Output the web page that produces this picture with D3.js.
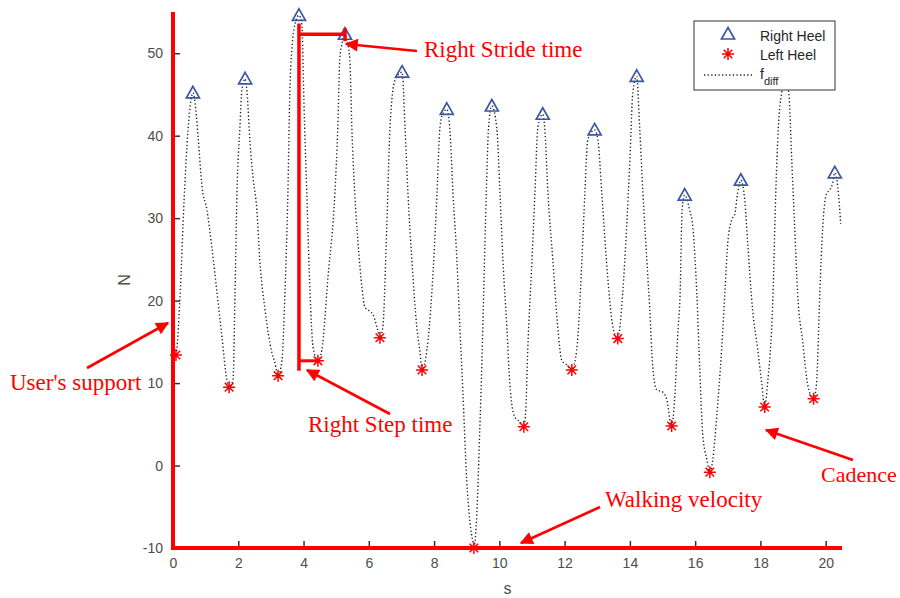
<!DOCTYPE html>
<html>
<head>
<meta charset="utf-8">
<script src="https://cdn.jsdelivr.net/npm/d3@7"></script>
<style>
  body { margin: 0; background: #fff; }
  svg { display: block; }
</style>
</head>
<body>
<div id="chart"></div>
<script>
// Right heel (peaks) and left heel (valleys), in seconds / N
const rightHeelT = [0.61, 2.21, 3.86, 5.27, 7.02, 8.39, 9.77, 11.33, 12.92, 14.21, 15.68, 17.40, 18.77, 20.28];
const rightHeelN = [45.2, 46.9, 54.6, 52.3, 47.7, 43.2, 43.6, 42.6, 40.7, 47.2, 32.8, 34.6, 46.8, 35.5];
const leftHeelT = [0.09, 1.72, 3.22, 4.44, 6.34, 7.63, 9.22, 10.75, 12.22, 13.63, 15.28, 16.45, 18.13, 19.63];
const leftHeelN = [13.4, 9.5, 10.9, 12.7, 15.5, 11.6, -10.0, 4.7, 11.6, 15.4, 4.8, -0.8, 7.1, 8.1];

// f_diff trace
const fdiffT = [0.03, 0.09, 0.21, 0.34, 0.46, 0.55, 0.61, 0.70, 0.77, 0.89, 1.04, 1.19, 1.35, 1.50, 1.65, 1.72,
  1.84, 1.90, 1.96, 2.05, 2.11, 2.21, 2.27, 2.36, 2.45, 2.57, 2.66, 2.82, 3.03, 3.12, 3.22,
  3.34, 3.43, 3.52, 3.58, 3.64, 3.77, 3.86, 3.95, 4.01, 4.10, 4.20, 4.29, 4.44,
  4.56, 4.75, 4.96, 5.05, 5.11, 5.18, 5.27, 5.36, 5.42, 5.48, 5.57, 5.67, 5.79, 5.88, 6.03, 6.13, 6.25, 6.34,
  6.43, 6.55, 6.65, 6.80, 7.02, 7.11, 7.20, 7.32, 7.47, 7.57, 7.63,
  7.78, 7.93, 8.09, 8.18, 8.27, 8.39, 8.48, 8.58, 8.70, 8.79, 8.88, 9.00, 9.10, 9.19, 9.22,
  9.31, 9.40, 9.45, 9.52, 9.60, 9.67, 9.77, 9.92, 10.02, 10.11, 10.23, 10.32, 10.47, 10.63, 10.75,
  10.81, 10.87, 11.00, 11.09, 11.18, 11.33, 11.39, 11.49, 11.64, 11.79, 11.91, 12.07, 12.22,
  12.37, 12.53, 12.62, 12.71, 12.92, 13.02, 13.14, 13.32, 13.48, 13.63,
  13.78, 13.90, 14.00, 14.09, 14.21, 14.30, 14.40, 14.52, 14.61, 14.70, 14.82, 15.01, 15.13, 15.28,
  15.37, 15.47, 15.54, 15.60, 15.68, 15.83, 15.93, 16.05, 16.14, 16.23, 16.36, 16.45,
  16.54, 16.66, 16.81, 16.91, 17.00, 17.12, 17.21, 17.30, 17.40, 17.52, 17.61, 17.76, 17.92, 18.04, 18.13,
  18.22, 18.38, 18.47, 18.55, 18.65, 18.77, 18.87, 18.96, 19.05, 19.14, 19.30, 19.45, 19.63,
  19.72, 19.82, 19.91, 20.03, 20.12, 20.21, 20.28, 20.37, 20.46];
const fdiffN = [13.1, 13.4, 20.1, 32.2, 40.7, 44.3, 45.2, 43.1, 39.8, 33.8, 31.0, 26.5, 20.9, 15.6, 10.4, 9.5,
  10.4, 20.9, 33.0, 41.0, 45.5, 46.9, 45.2, 39.1, 35.0, 31.0, 24.9, 18.9, 13.7, 12.5, 10.9,
  12.8, 20.9, 33.0, 45.2, 50.4, 54.0, 54.6, 53.4, 44.3, 33.0, 20.9, 14.4, 12.7,
  14.0, 22.9, 33.0, 41.0, 49.2, 51.2, 52.3, 51.0, 49.2, 41.0, 33.0, 27.0, 21.6, 19.2, 18.7, 18.3, 16.8, 15.5,
  16.8, 28.9, 41.0, 46.7, 47.7, 41.0, 33.0, 24.9, 16.8, 13.7, 11.6,
  14.0, 20.9, 33.0, 41.0, 42.7, 43.2, 41.0, 33.0, 24.9, 16.8, 9.2, -1.7, -6.9, -9.3, -10.0,
  -5.8, 4.3, 10.4, 20.9, 33.0, 41.0, 43.6, 41.0, 33.0, 24.9, 16.8, 10.0, 5.9, 5.3, 4.7,
  6.8, 14.0, 24.9, 33.0, 41.0, 42.6, 41.0, 33.0, 24.9, 16.8, 12.8, 12.2, 11.6,
  14.0, 24.9, 33.0, 39.5, 40.7, 39.5, 33.0, 22.9, 16.8, 15.4,
  20.9, 28.9, 37.0, 45.2, 47.2, 41.0, 33.0, 24.9, 18.9, 12.0, 9.2, 8.9, 8.0, 4.8,
  8.0, 16.1, 20.9, 31.0, 32.8, 31.0, 28.9, 20.9, 11.9, 3.9, 0.7, -0.8,
  0.7, 5.9, 14.0, 20.9, 27.0, 29.8, 30.4, 33.0, 34.6, 32.2, 27.0, 18.9, 14.0, 10.0, 7.1,
  10.0, 20.1, 33.0, 41.0, 45.2, 46.8, 45.2, 37.0, 28.9, 20.9, 14.9, 9.8, 8.1,
  10.0, 20.9, 28.9, 33.0, 33.4, 34.2, 35.5, 33.8, 29.3];

const xTicks = [0, 2, 4, 6, 8, 10, 12, 14, 16, 18, 20];
const yTicks = [-10, 0, 10, 20, 30, 40, 50];

const width = 900, height = 598;
const margin = { left: 173, right: 58, top: 12, bottom: 50 };
const red = "#ff0000";
const blue = "#3d56a6";

const svg = d3.select("#chart").append("svg")
  .attr("width", width)
  .attr("height", height)
  .style("font-family", "'Liberation Sans', Arial, sans-serif");

const x = d3.scaleLinear([0, 20.5], [margin.left, width - margin.right]);
const y = d3.scaleLinear([-10, 55], [height - margin.bottom, margin.top]);

// arrowhead
svg.append("defs").append("marker")
  .attr("id", "arrow")
  .attr("viewBox", "0 0 10 10")
  .attr("refX", 9).attr("refY", 5)
  .attr("markerWidth", 6).attr("markerHeight", 5)
  .attr("markerUnits", "strokeWidth")
  .attr("orient", "auto")
  .append("path")
  .attr("d", "M0,0L10,5L0,10z")
  .attr("fill", red);

// axes (ticks pointing inward, MATLAB style)
const xAxis = svg.append("g")
  .attr("transform", `translate(0,${y(-10)})`)
  .call(d3.axisBottom(x).tickValues(xTicks).tickSize(-7).tickPadding(10).tickFormat((d) => String(d)));
const yAxis = svg.append("g")
  .attr("transform", `translate(${x(0)},0)`)
  .call(d3.axisLeft(y).tickValues(yTicks).tickSize(-7).tickPadding(10).tickFormat((d) => String(d)));
[xAxis, yAxis].forEach((g) => {
  g.select(".domain").remove();
  g.selectAll(".tick line").attr("stroke", "#333").attr("stroke-width", 1.5);
  g.selectAll(".tick text").attr("fill", "#4d4d4d").style("font-size", "14px")
    .style("font-family", "'Liberation Sans', Arial, sans-serif");
});

svg.append("text")
  .attr("transform", `translate(130,${y(22.5)}) rotate(-90)`)
  .attr("text-anchor", "middle")
  .attr("fill", "#4d4d4d")
  .style("font-size", "16px")
  .text("N");
svg.append("text")
  .attr("x", x(10.25)).attr("y", 594)
  .attr("text-anchor", "middle")
  .attr("fill", "#4d4d4d")
  .style("font-size", "16px")
  .text("s");

// f_diff trace
const fdiff = fdiffT.map((t, i) => ({ t: t, n: fdiffN[i] }));
const line = d3.line().x((d) => x(d.t)).y((d) => y(d.n)).curve(d3.curveMonotoneX);
svg.append("path")
  .datum(fdiff)
  .attr("d", line)
  .attr("fill", "none")
  .attr("stroke", "#222")
  .attr("stroke-width", 1.4)
  .attr("stroke-dasharray", "1.3,2.3");

// markers
const triPath = "M0,-6.5L6.5,5L-6.5,5Z";
const starPath = "M-6,0H6M0,-6V6M-4.3,-4.3L4.3,4.3M-4.3,4.3L4.3,-4.3";

svg.append("g")
  .selectAll("path")
  .data(d3.range(rightHeelT.length))
  .join("path")
  .attr("transform", (i) => `translate(${x(rightHeelT[i])},${y(rightHeelN[i])})`)
  .attr("d", triPath)
  .attr("fill", "none")
  .attr("stroke", blue)
  .attr("stroke-width", 1.7);

svg.append("g")
  .selectAll("path")
  .data(d3.range(leftHeelT.length))
  .join("path")
  .attr("transform", (i) => `translate(${x(leftHeelT[i])},${y(leftHeelN[i])})`)
  .attr("d", starPath)
  .attr("fill", "none")
  .attr("stroke", red)
  .attr("stroke-width", 1.5);

// red annotation lines
const ann = svg.append("g").attr("stroke", red).attr("fill", "none");
ann.append("line")
  .attr("x1", x(0)).attr("x2", x(0))
  .attr("y1", y(55)).attr("y2", y(-10))
  .attr("stroke-width", 4);
ann.append("line")
  .attr("x1", x(0) - 2).attr("x2", x(20.5))
  .attr("y1", y(-10)).attr("y2", y(-10))
  .attr("stroke-width", 4);

// stride / step brackets
const pk3 = rightHeelT[2], pk4 = rightHeelT[3], st4 = leftHeelT[3];
ann.append("line")
  .attr("x1", x(pk3)).attr("x2", x(pk3))
  .attr("y1", y(53.6)).attr("y2", y(11.5))
  .attr("stroke-width", 3.5);
ann.append("line")
  .attr("x1", x(pk3)).attr("x2", x(pk4))
  .attr("y1", y(52.3)).attr("y2", y(52.3))
  .attr("stroke-width", 3.5);
ann.append("line")
  .attr("x1", x(pk4)).attr("x2", x(pk4))
  .attr("y1", y(52.3) - 6).attr("y2", y(52.3) + 7)
  .attr("stroke-width", 3.5);
ann.append("line")
  .attr("x1", x(pk3)).attr("x2", x(st4))
  .attr("y1", y(12.7)).attr("y2", y(12.7))
  .attr("stroke-width", 3);

// arrows and labels
const notes = [
  { text: "Right Stride time", tx: 424, ty: 57, size: 23, from: [417, 51], to: [346, 44] },
  { text: "User's support", tx: 10, ty: 390, size: 23, from: [87, 368], to: [168, 323] },
  { text: "Right Step time", tx: 308, ty: 432, size: 23, from: [390, 414], to: [307, 370] },
  { text: "Walking velocity", tx: 605, ty: 507, size: 23, from: [600, 507], to: [521, 543] },
  { text: "Cadence", tx: 821, ty: 482, size: 22, from: [853, 460], to: [766, 430] }
];
notes.forEach((d) => {
  svg.append("line")
    .attr("x1", d.from[0]).attr("y1", d.from[1])
    .attr("x2", d.to[0]).attr("y2", d.to[1])
    .attr("stroke", red)
    .attr("stroke-width", 2.6)
    .attr("marker-end", "url(#arrow)");
  svg.append("text")
    .attr("x", d.tx).attr("y", d.ty)
    .attr("fill", red)
    .style("font-family", "'Liberation Serif', 'Times New Roman', serif")
    .style("font-size", d.size + "px")
    .text(d.text);
});

// legend
const lg = svg.append("g").attr("transform", "translate(694,21)");
lg.append("rect")
  .attr("width", 141).attr("height", 69)
  .attr("fill", "#fff")
  .attr("stroke", "#555")
  .attr("stroke-width", 1.2);
lg.append("path")
  .attr("transform", "translate(34,13)")
  .attr("d", triPath)
  .attr("fill", "none").attr("stroke", blue).attr("stroke-width", 1.7);
lg.append("path")
  .attr("transform", "translate(34,33)")
  .attr("d", starPath)
  .attr("fill", "none").attr("stroke", red).attr("stroke-width", 1.5);
lg.append("line")
  .attr("x1", 10).attr("x2", 58)
  .attr("y1", 54).attr("y2", 54)
  .attr("stroke", "#222").attr("stroke-width", 1.4)
  .attr("stroke-dasharray", "1.3,2.3");
const lgText = [["Right Heel", 20], ["Left Heel", 39]];
lgText.forEach(([t, yy]) => {
  lg.append("text")
    .attr("x", 66).attr("y", yy)
    .attr("fill", "#262626")
    .style("font-size", "14px")
    .text(t);
});
const fd = lg.append("text")
  .attr("x", 66).attr("y", 58)
  .attr("fill", "#262626")
  .style("font-size", "14px");
fd.append("tspan").text("f");
fd.append("tspan").attr("dy", 6).style("font-size", "11px").text("diff");
</script>
</body>
</html>
